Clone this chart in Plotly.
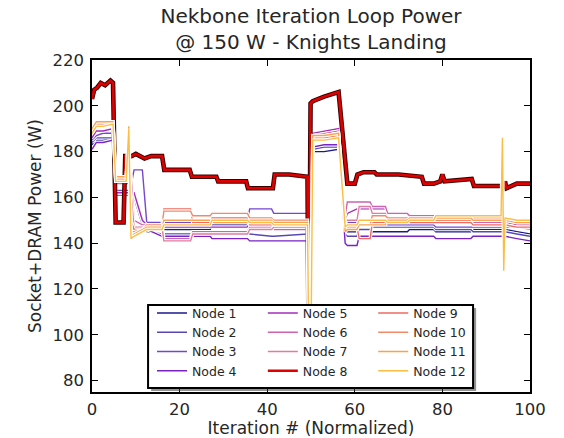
import plotly.graph_objects as go

# ---------------- data ----------------
node_names = ["Node 1", "Node 2", "Node 3", "Node 4", "Node 5", "Node 6",
              "Node 7", "Node 8", "Node 9", "Node 10", "Node 11", "Node 12"]

# shared iteration grid (normalized %) for nodes other than Node 8
x_grid = [0, 1, 2.5, 4.8, 5.4, 7.8, 8.4, 8.9, 9.6, 11.5, 12.5, 16, 16.4, 22.5, 23,
          27, 27.4, 35.5, 36, 41, 41.5, 49.2, 49.5, 50.0, 50.4, 53, 56.3, 57.8,
          58.3, 60.5, 61, 63.5, 64, 67, 67.5, 72, 72.5, 78, 78.5, 86.5, 87, 93.4,
          93.7, 94.0, 94.3, 97, 100]

node_1 = [183, 185, 185, 186, 162, 162, 162, 162, 161, 149, 147, 146, 146, 146, 146, 146,
          148, 148, 146, 146, 146, 146, 95, 95, 180, 180, 181, 146, 145, 145, 143, 143,
          145, 145, 145, 145, 146, 146, 145, 145, 146, 146, 146, 146, 146, 145, 144]
node_2 = [184, 186, 186, 186, 161, 161, 161, 160, 160, 148, 145, 144, 144, 144, 144, 144,
          144, 144, 144, 143, 143, 144, 95, 95, 181, 182, 182, 144, 143, 143, 146, 146,
          147, 147, 147, 147, 147, 147, 146, 146, 145, 145, 145, 145, 145, 144, 143]
node_3 = [185, 187, 188, 188, 163, 163, 163, 165, 172, 172, 149, 149, 149, 149, 150, 150,
          150, 150, 155, 155, 153, 153, 95, 95, 186, 187, 188, 150, 149, 149, 148, 148,
          149, 149, 148, 148, 148, 148, 147, 147, 147, 147, 147, 147, 147, 147, 146]
node_4 = [181, 184, 184, 185, 162, 162, 162, 162, 162, 150, 146, 143, 143, 143, 143, 143,
          142, 142, 141, 141, 141, 141, 95, 95, 182, 183, 183, 140, 139, 139, 143, 143,
          143, 143, 143, 143, 143, 143, 142, 142, 143, 143, 143, 143, 143, 142, 141]
node_5 = [186, 189, 189, 190, 162, 162, 162, 162, 162, 150, 148, 147, 147, 147, 147, 147,
          147, 147, 149, 149, 150, 150, 95, 95, 188, 189, 190, 150, 153, 155, 155, 155,
          155, 155, 153, 153, 151, 151, 150, 150, 149, 149, 149, 149, 149, 148, 147]
node_6 = [188, 191, 191, 192, 166, 166, 166, 170, 150, 148, 148, 148, 142, 142, 145, 145,
          145, 145, 147, 147, 146, 146, 95, 95, 187, 188, 189, 152, 158, 158, 158, 158,
          156, 156, 153, 153, 152, 152, 150, 150, 149, 149, 149, 149, 149, 148, 148]
node_7 = [189, 191, 192, 192, 167, 167, 172, 160, 147, 147, 147, 147, 141, 141, 144, 144,
          144, 144, 146, 146, 147, 147, 95, 95, 186, 187, 188, 149, 150, 150, 156, 156,
          153, 153, 150, 150, 150, 150, 149, 149, 148, 148, 148, 148, 148, 147, 146]
node_9 = [189, 192, 193, 193, 168, 168, 180, 150, 146, 146, 147, 147, 155, 155, 149, 149,
          151, 151, 148, 148, 148, 148, 95, 95, 186, 187, 188, 148, 147, 147, 142, 142,
          149, 149, 150, 150, 149, 149, 149, 149, 148, 148, 148, 148, 148, 147, 147]
node_10 = [190, 192, 192, 192, 168, 168, 188, 145, 145, 146, 148, 148, 154, 154, 152, 152,
           153, 153, 151, 151, 150, 150, 95, 95, 186, 186, 187, 148, 147, 147, 148, 148,
           152, 152, 151, 151, 150, 150, 150, 150, 151, 151, 151, 151, 151, 150, 149]
node_11 = [190, 193, 193, 193, 169, 169, 191, 143, 144, 146, 147, 147, 150, 150, 150, 150,
           149, 149, 150, 150, 149, 149, 95, 95, 187, 187, 188, 145, 146, 146, 148, 148,
           148, 148, 150, 150, 151, 151, 151, 151, 150, 150, 150, 150, 150, 149, 149]
node_12 = [188, 191, 191, 192, 167, 167, 190, 142, 143, 145, 146, 146, 148, 148, 148, 148,
           150, 150, 149, 149, 148, 148, 95, 95, 185, 185, 186, 147, 148, 148, 150, 150,
           150, 150, 149, 149, 150, 150, 152, 152, 152, 152, 186, 128, 151, 150, 150]

# Node 8 has its own sample positions
node_8_x = [0, 0.5, 1.2, 2, 3, 3.5, 4.2, 4.8, 5.4, 7.2, 7.6, 9, 10, 12, 13.5, 16, 16.5,
            22.3, 22.8, 28.4, 28.8, 35.2, 35.6, 41.3, 41.7, 45, 49.2, 49.5, 49.9, 50.4,
            53, 56.3, 58.3, 60, 60.6, 62, 64.5, 65, 70, 75.3, 75.8, 78, 79.5, 80, 80.5,
            86.7, 87.2, 92, 94, 94.3, 94.6, 97, 100]
node_8_y = [203, 207, 208, 210, 209, 210, 211, 210, 149, 149, 178, 178, 179, 177, 178, 178,
            172, 172, 169, 169, 167, 167, 164, 164, 170, 170, 169, 80, 201, 202, 204, 206,
            166, 166, 170, 171, 171, 170, 170, 169, 166, 166, 167, 170, 167, 168, 165, 165,
            165, 167, 164, 166, 166]

series = [node_1, node_2, node_3, node_4, node_5, node_6, node_7, None,
          node_9, node_10, node_11, node_12]

# ---------------- styles ----------------
colors = ["#1c1a8a", "#5548b6", "#7447cf", "#7a22c4", "#a52cbb", "#cc63b2",
          "#e07c9f", "#e00000", "#ee6a62", "#f2896a", "#f8a24e", "#fbbd44"]
FONT = "DejaVu Sans"
TXT = "#262626"

fig = go.Figure()
legend_ids = ["legend"] * 4 + ["legend2"] * 4 + ["legend3"] * 4

for i, name in enumerate(node_names):
    if name == "Node 8":
        xs, ys = node_8_x, node_8_y
        halo_col, halo_w, w = "#3a0000", 4.6, 2.6
    else:
        xs, ys = x_grid, series[i]
        halo_col, halo_w, w = "white", 3.4, 1.4
    fig.add_trace(go.Scatter(x=xs, y=ys, mode="lines", showlegend=False,
                             hoverinfo="skip",
                             line=dict(color=halo_col, width=halo_w),
                             legend=legend_ids[i]))
    fig.add_trace(go.Scatter(x=xs, y=ys, mode="lines", name=name,
                             line=dict(color=colors[i], width=w),
                             legend=legend_ids[i]))

axis_common = dict(showline=True, linecolor="black", linewidth=1.6, mirror="ticks",
                   ticks="inside", ticklen=6, tickwidth=1.4, tickcolor="black",
                   showgrid=False, zeroline=False, automargin=False,
                   tickfont=dict(family=FONT, size=16.5, color=TXT))

fig.update_xaxes(range=[0, 100], tickvals=[0, 20, 40, 60, 80, 100],
                 ticklabelstandoff=1,
                 title=dict(text="Iteration # (Normalized)", standoff=5,
                            font=dict(family=FONT, size=17, color=TXT)),
                 **axis_common)
fig.update_yaxes(range=[75, 220], tickvals=[80, 100, 120, 140, 160, 180, 200, 220],
                 ticklabelstandoff=3,
                 title=dict(text="Socket+DRAM Power (W)", standoff=6,
                            font=dict(family=FONT, size=17, color=TXT)),
                 **axis_common)

leg_common = dict(yanchor="bottom", xanchor="left", y=0.02, bgcolor="rgba(0,0,0,0)",
                  borderwidth=0, tracegroupgap=0,
                  font=dict(family=FONT, size=12.5, color=TXT))

# legend frame (with drop shadow)
x0, x1, y0, y1 = 0.128, 0.870, 0.012, 0.262
fig.add_shape(type="rect", xref="paper", yref="paper", x0=x0 + 0.007, x1=x1 + 0.007,
              y0=y0 - 0.009, y1=y1 - 0.009, fillcolor="rgba(60,60,60,0.55)",
              line=dict(width=0), layer="above")
fig.add_shape(type="rect", xref="paper", yref="paper", x0=x0, x1=x1, y0=y0, y1=y1,
              fillcolor="white", line=dict(color="black", width=2), layer="above")

fig.update_layout(
    width=564, height=438,
    margin=dict(l=92, r=34, t=60, b=46),
    paper_bgcolor="white", plot_bgcolor="white",
    font=dict(family=FONT, color=TXT),
    title=dict(text="Nekbone Iteration Loop Power<br>@ 150 W - Knights Landing",
               x=0.5, xref="paper", xanchor="center",
               y=0.9486, yref="container", yanchor="bottom",
               font=dict(family=FONT, size=20, color=TXT)),
    legend=dict(x=0.137, **leg_common),
    legend2=dict(x=0.390, **leg_common),
    legend3=dict(x=0.642, **leg_common),
)

fig.write_html("out.html")
